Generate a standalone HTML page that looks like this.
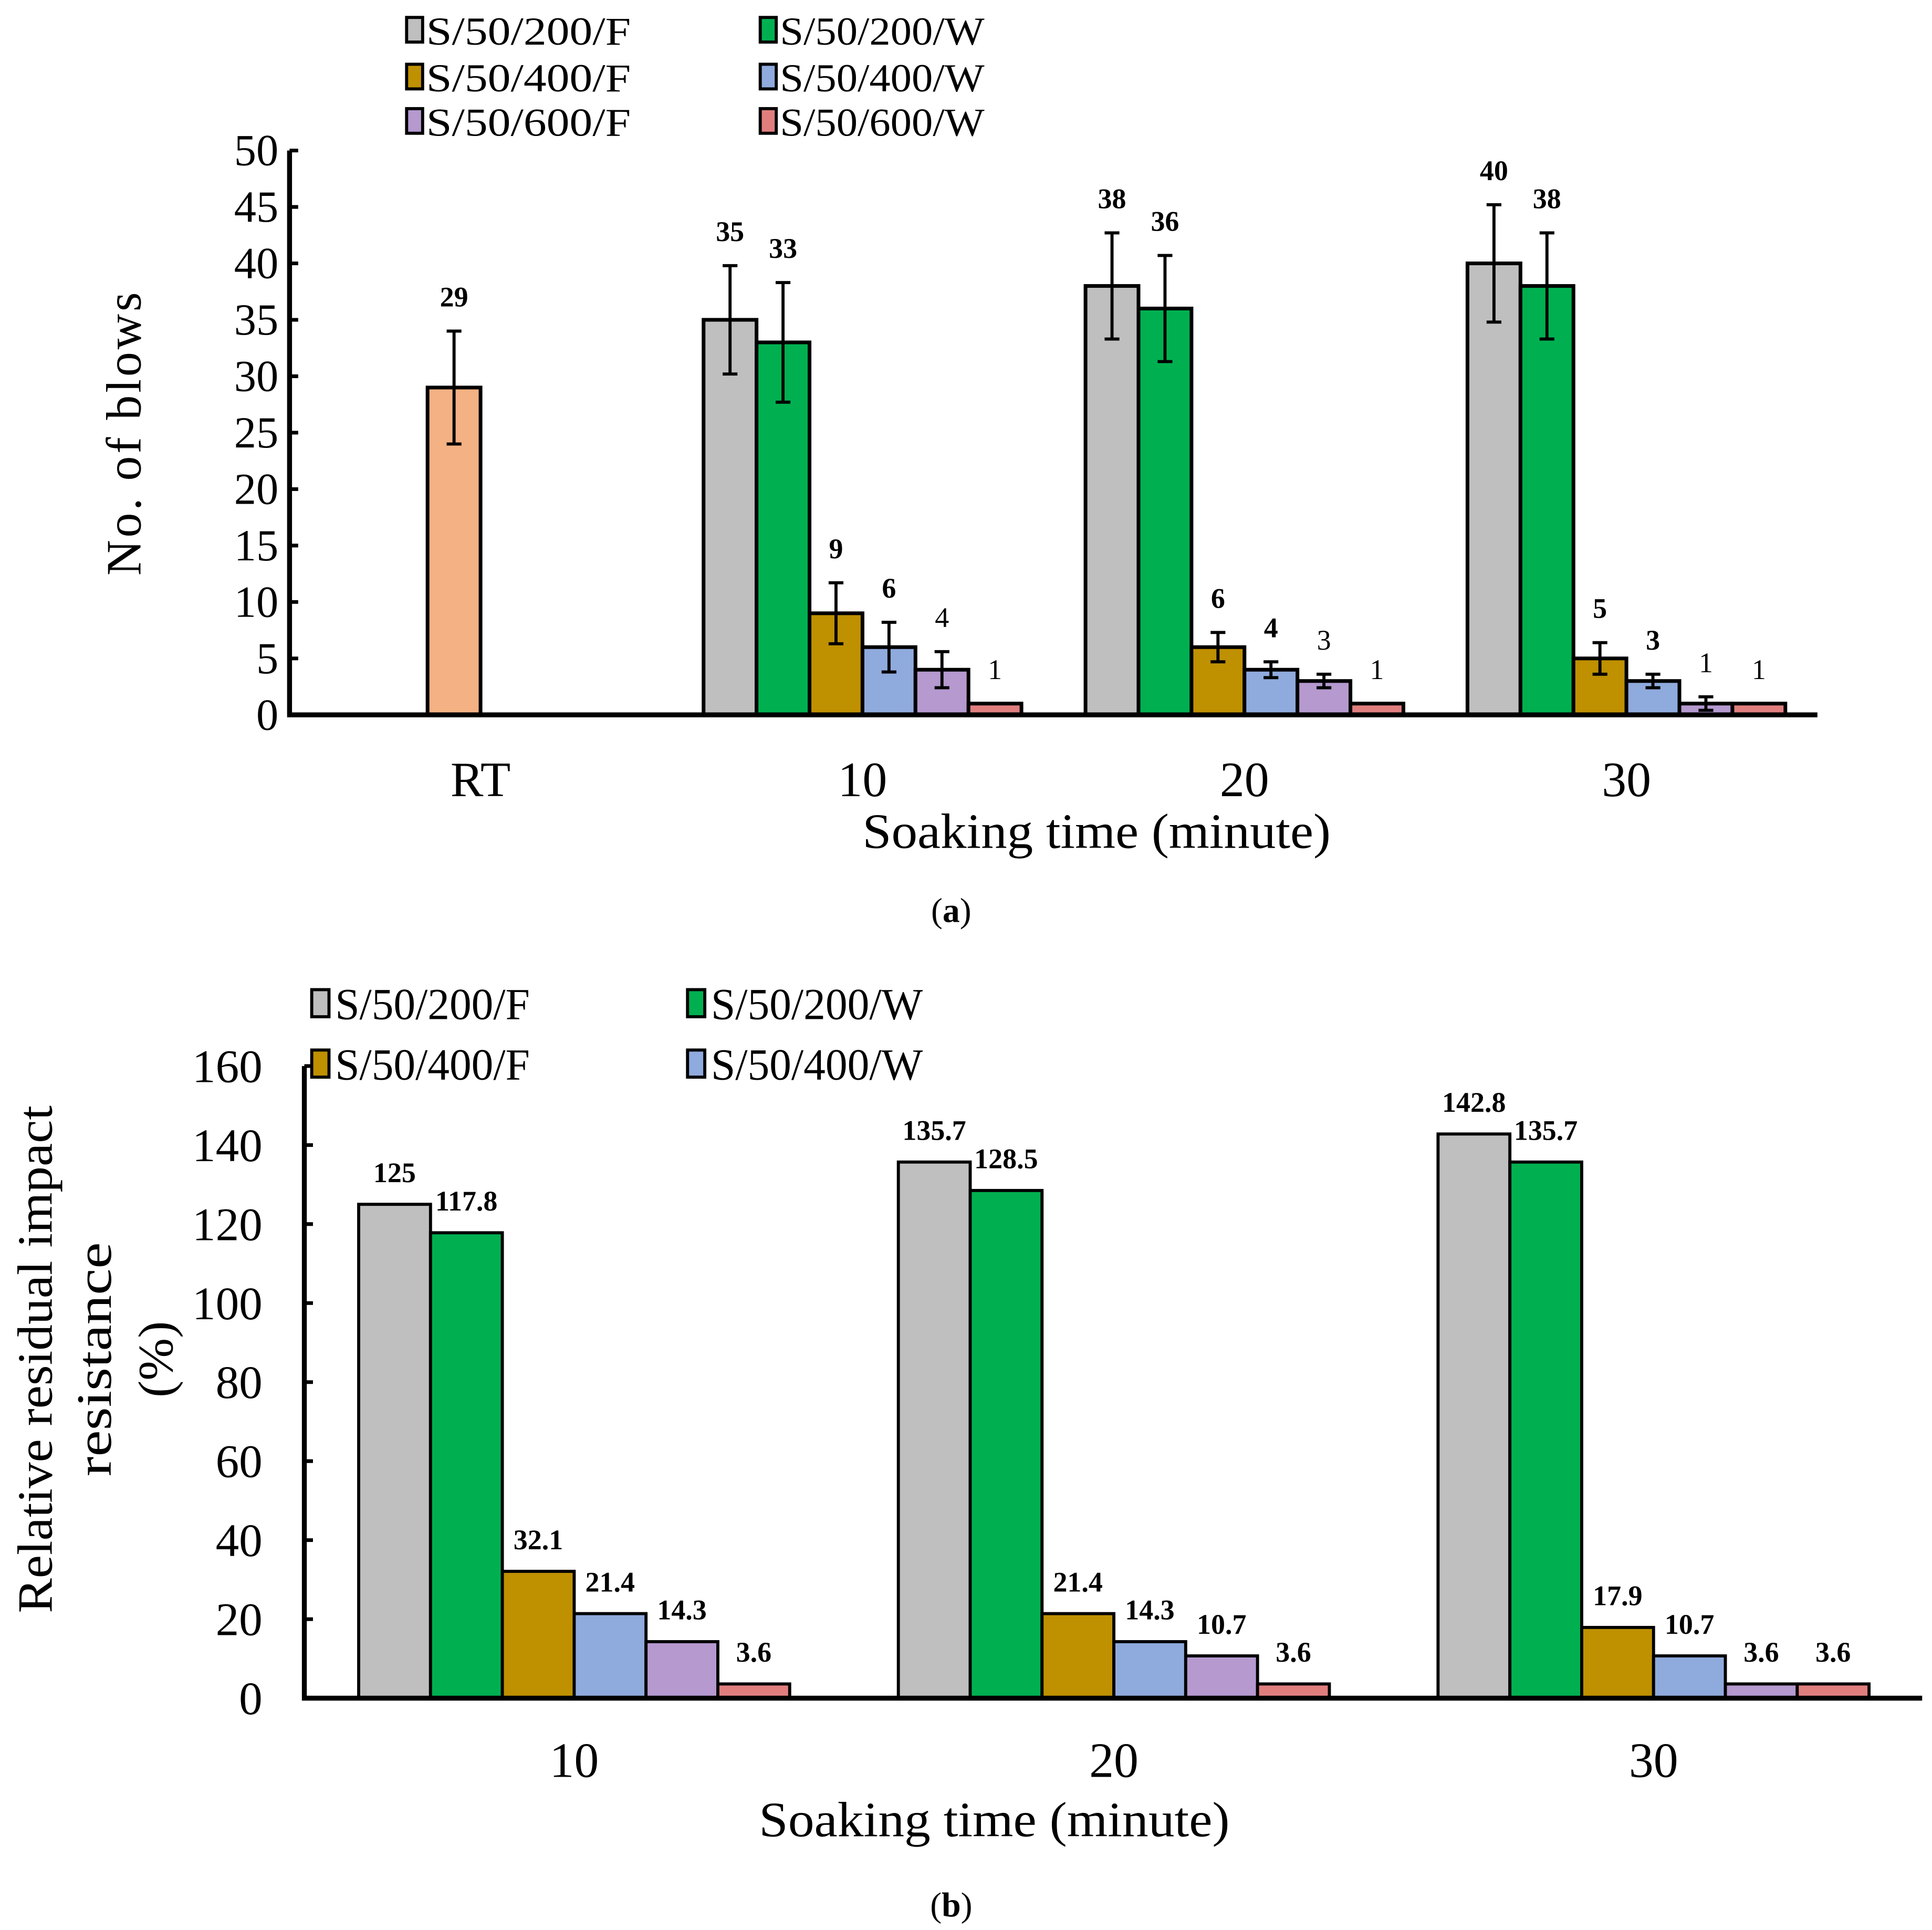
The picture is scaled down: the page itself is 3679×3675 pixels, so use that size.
<!DOCTYPE html>
<html><head><meta charset="utf-8"><style>
html,body{margin:0;padding:0;background:#fff}
svg{display:block}
text{font-family:"Liberation Serif",serif;fill:#000}
</style></head><body>
<svg id="fig" width="3679" height="3675" viewBox="0 0 1568 1566" xmlns="http://www.w3.org/2000/svg">
<g id="chartA"></g>
<g id="chartB"></g>
</svg>
<script>
// ---------- data: chart (a) ----------
const catsA = ["RT","10","20","30"];
const seriesNamesA = ["S/50/200/F","S/50/200/W","S/50/400/F","S/50/400/W","S/50/600/F","S/50/600/W"];
const s200F_A = [null,35,38,40];
const s200W_A = [null,33,36,38];
const s400F_A = [null,9,6,5];
const s400W_A = [null,6,4,3];
const s600F_A = [null,4,3,1];
const s600W_A = [null,1,1,1];
const rtValue = [29];
const rtErr = [5];
const err200F_A = [null,4.8,4.7,5.2];
const err200W_A = [null,5.3,4.7,4.7];
const err400F_A = [null,2.7,1.3,1.4];
const err400W_A = [null,2.2,0.7,0.6];
const err600F_A = [null,1.6,0.6,0.6];
const err600W_A = [null,0,0,0];
const boldA = [[null,true,true,true],[null,true,true,true],[null,true,true,true],[null,true,true,true],[null,false,false,false],[null,false,false,false]];
const yTicksA = [0,5,10,15,20,25,30,35,40,45,50];
// ---------- data: chart (b) ----------
const catsB = ["10","20","30"];
const s200F_B = [125,135.7,142.8];
const s200W_B = [117.8,128.5,135.7];
const s400F_B = [32.1,21.4,17.9];
const s400W_B = [21.4,14.3,10.7];
const s600F_B = [14.3,10.7,3.6];
const s600W_B = [3.6,3.6,3.6];
const yTicksB = [0,20,40,60,80,100,120,140,160];

const colors = ["#bfbfbf","#00b050","#bf9000","#8faadc","#b599cf","#e07e7e"];
const NS = "http://www.w3.org/2000/svg";
function mk(parent, tag, attrs){const e=document.createElementNS(NS,tag);for(const k in attrs)e.setAttribute(k,attrs[k]);parent.appendChild(e);return e;}

// ---------- chart (a) ----------
(function(){
  const g = document.getElementById("chartA");
  const x0=235, xEnd=1475, yBase=580, yTop=122, yMax=50;
  const ya = v => yBase - (yBase-yTop)*v/yMax;
  const catCenter = i => 390 + 310*i;
  const bw = 43;
  const slotX = (i,k) => catCenter(i) - 3*bw + k*bw;
  const vals=[s200F_A,s200W_A,s400F_A,s400W_A,s600F_A,s600W_A];
  const errs=[err200F_A,err200W_A,err400F_A,err400W_A,err600F_A,err600W_A];
  function bar(x,v,col,e,label,bold,name){
    const r=mk(g,"rect",{x:x,y:ya(v),width:bw,height:yBase-ya(v),fill:col,stroke:"#000","stroke-width":3});
    
    
    let top=ya(v);
    if(e>0){
      const cx=x+bw/2;
      const eb=mk(g,"path",{d:`M${cx} ${ya(v+e)}V${ya(v-e)}M${cx-6} ${ya(v+e)}H${cx+6}M${cx-6} ${ya(v-e)}H${cx+6}`,stroke:"#000","stroke-width":2.5,fill:"none"});
      
      
      top=ya(v+e);
    }
    const t=mk(g,"text",{x:x+bw/2,y:top-20,"text-anchor":"middle","font-size":23,"font-weight":bold?"bold":"normal"});
    t.textContent=label;
    
    
  }
  bar(slotX(0,2),rtValue[0],"#f4b183",rtErr[0],String(rtValue[0]),true,"bar-rt");
  for(let k=0;k<6;k++)for(let i=1;i<catsA.length;i++){
    const v=vals[k][i]; if(v==null)continue;
    bar(slotX(i,k),v,colors[k],errs[k][i],String(v),boldA[k][i],"bar-"+seriesNamesA[k].replace(/\//g,'-').toLowerCase()+"-"+catsA[i]);
  }
  const ax=mk(g,"path",{d:`M${x0} ${yTop}V${yBase}H${xEnd}`,stroke:"#000","stroke-width":4,fill:"none"});
  
  
  yTicksA.forEach(v=>{
    mk(g,"path",{d:`M${x0} ${ya(v)}H${x0+7}`,stroke:"#000","stroke-width":3});
    const t=mk(g,"text",{x:226,y:ya(v)+12,"text-anchor":"end","font-size":36});
    t.textContent=v;
    
    
  });
  catsA.forEach((c,i)=>{
    const t=mk(g,"text",{x:catCenter(i),y:646,"text-anchor":"middle","font-size":40});
    t.textContent=c;
    
    
  });
  const xt=mk(g,"text",{x:890,y:688,"text-anchor":"middle","font-size":40,textLength:380,lengthAdjust:"spacingAndGlyphs"});xt.textContent="Soaking time (minute)";
  
  
  const yt=mk(g,"text",{x:0,y:0,"text-anchor":"middle","font-size":40,textLength:230,lengthAdjust:"spacing",transform:"translate(114,352) rotate(-90)"});yt.textContent="No. of  blows";
  
  
  const cap=mk(g,"text",{x:772,y:748,"text-anchor":"middle","font-size":28});cap.innerHTML='(<tspan font-weight="bold">a</tspan>)';
  
  
  const lx=[330,617], ly=[25,63,99];
  seriesNamesA.forEach((n,k)=>{
    const c=k%2, r=Math.floor(k/2);
    const le=mk(g,"g",{});
    
    
    mk(le,"rect",{x:lx[c],y:ly[r]-11,width:13,height:20,fill:colors[k],stroke:"#000","stroke-width":2.5});
    const t=mk(le,"text",{x:lx[c]+16,y:ly[r]+11,"font-size":32,textLength:166,lengthAdjust:"spacingAndGlyphs"});t.textContent=n;
  });
})();

// ---------- chart (b) ----------
(function(){
  const g=document.getElementById("chartB");
  const x0=247, xEnd=1560, yBase=1378, yTop=865, yMax=160;
  const ya=v=>yBase-(yBase-yTop)*v/yMax;
  const catCenter=i=>466+438*i;
  const bw=58.3;
  const vals=[s200F_B,s200W_B,s400F_B,s400W_B,s600F_B,s600W_B];
  const names=["s200f","s200w","s400f","s400w","s600f","s600w"];
  for(let k=0;k<6;k++)for(let i=0;i<catsB.length;i++){
    const v=vals[k][i], x=catCenter(i)-3*bw+k*bw;
    const r=mk(g,"rect",{x:x,y:ya(v),width:bw,height:yBase-ya(v),fill:colors[k],stroke:"#000","stroke-width":2.5});
    
    
    const t=mk(g,"text",{x:x+bw/2,y:ya(v)-18,"text-anchor":"middle","font-size":23,"font-weight":"bold"});
    t.textContent=String(v);
    
    
  }
  const ax=mk(g,"path",{d:`M${x0} ${yTop}V${yBase}H${xEnd}`,stroke:"#000","stroke-width":4,fill:"none"});
  
  
  yTicksB.forEach(v=>{
    mk(g,"path",{d:`M${x0} ${ya(v)}H${x0+7}`,stroke:"#000","stroke-width":3});
    const t=mk(g,"text",{x:213,y:ya(v)+13,"text-anchor":"end","font-size":38});
    t.textContent=v;
    
    
  });
  catsB.forEach((c,i)=>{
    const t=mk(g,"text",{x:catCenter(i),y:1442,"text-anchor":"middle","font-size":40});
    t.textContent=c;
    
    
  });
  const xt=mk(g,"text",{x:807,y:1490,"text-anchor":"middle","font-size":40,textLength:382,lengthAdjust:"spacingAndGlyphs"});xt.textContent="Soaking time (minute)";
  
  
  const yt=mk(g,"text",{"text-anchor":"middle","font-size":40,transform:"translate(0,1103) rotate(-90)"});
  
  
  [["Relative residual impact",42,412],["resistance",90,190],["(%)",140,62]].forEach(([s,y,L])=>{const ts=mk(yt,"tspan",{x:0,y:y,textLength:L,lengthAdjust:"spacingAndGlyphs"});ts.textContent=s;});
  const cap=mk(g,"text",{x:772,y:1555,"text-anchor":"middle","font-size":28});cap.innerHTML='(<tspan font-weight="bold">b</tspan>)';
  
  
  const legNames=["S/50/200/F","S/50/200/W","S/50/400/F","S/50/400/W"];
  const lx=[253,558], ly=[815,864];
  legNames.forEach((n,k)=>{
    const c=k%2,r=Math.floor(k/2);
    const le=mk(g,"g",{});
    
    
    mk(le,"rect",{x:lx[c],y:ly[r]-12,width:14,height:22,fill:colors[k],stroke:"#000","stroke-width":2.5});
    const t=mk(le,"text",{x:lx[c]+19,y:ly[r]+12,"font-size":36,textLength:n.endsWith("W")?172:158,lengthAdjust:"spacingAndGlyphs"});t.textContent=n;
  });
})();
</script>
</body></html>
